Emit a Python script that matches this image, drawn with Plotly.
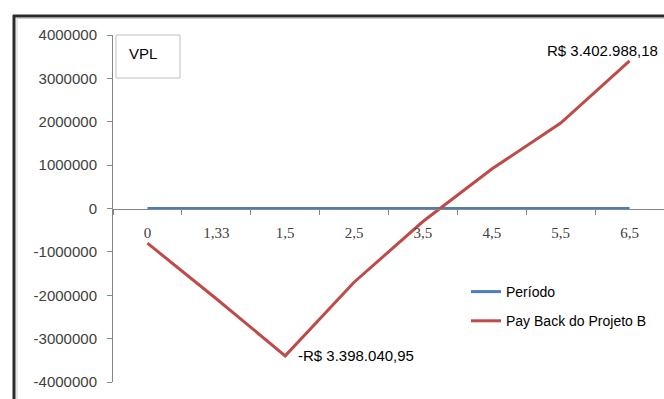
import plotly.graph_objects as go

categories = ["0", "1,33", "1,5", "2,5", "3,5", "4,5", "5,5", "6,5"]
periodo = [0, 1.33, 1.5, 2.5, 3.5, 4.5, 5.5, 6.5]
payback_b = [-800000, -2080000, -3398040.95, -1700000, -300000, 910000, 1970000, 3402988.18]
y_ticks = [-4000000, -3000000, -2000000, -1000000, 0, 1000000, 2000000, 3000000, 4000000]
min_label = "-R$ 3.398.040,95"
max_label = "R$ 3.402.988,18"

W, H = 664, 399
L, R, T, B = 113, 0, 35, 17
pw = W - L - R
ph = H - T - B

def px(x):
    return (x - L) / pw

def py(y):
    return (H - B - y) / ph

fig = go.Figure()
fig.add_trace(go.Scatter(x=categories, y=periodo, mode="lines", name="Período", legendgroup="a",
                         line=dict(color="#4A7EBB", width=3)))
fig.add_trace(go.Scatter(x=categories, y=payback_b, mode="lines", name="Pay Back do Projeto B",
                         legendgroup="b", line=dict(color="#BE4B48", width=3)))

sans = "Liberation Sans, Arial, sans-serif"
axis_font = dict(family=sans, size=15, color="#404040")

fig.update_layout(
    width=W, height=H,
    margin=dict(l=L, r=R, t=T, b=B, pad=0, autoexpand=False),
    paper_bgcolor="white", plot_bgcolor="white",
    showlegend=True,
    legend=dict(x=px(466), y=py(276), xanchor="left", yanchor="top",
                font=dict(family=sans, size=14, color="#000000"),
                bgcolor="rgba(0,0,0,0)", tracegroupgap=8),
    xaxis=dict(type="category", range=[-0.5, 7.5], anchor="free", position=0.5,
               showline=True, linecolor="#868686", linewidth=1,
               ticks="outside", ticklen=5, tickcolor="#868686", tickson="boundaries",
               showgrid=False, zeroline=False, ticklabelstandoff=10,
               tickfont=dict(family="Liberation Serif, Times New Roman, serif", size=15, color="#404040")),
    yaxis=dict(range=[-4000000, 4000000], tickvals=y_ticks, ticktext=[str(v) for v in y_ticks],
               showline=True, linecolor="#868686", linewidth=1,
               ticks="outside", ticklen=5, tickcolor="#868686", ticklabelstandoff=7,
               showgrid=False, zeroline=False, tickfont=axis_font),
)

# Data labels
fig.add_annotation(x=categories[2], y=payback_b[2], text=min_label, showarrow=False,
                   xanchor="left", yanchor="middle", xshift=11, yshift=0,
                   font=dict(family=sans, size=15, color="#000000"))
fig.add_annotation(x=categories[7], y=payback_b[7], text=max_label, showarrow=False,
                   xanchor="right", yanchor="middle", xshift=30, yshift=10,
                   font=dict(family=sans, size=15, color="#000000"))

# VPL title box
fig.add_shape(type="rect", xref="paper", yref="paper",
              x0=px(116), x1=px(180), y0=py(78), y1=py(35),
              line=dict(color="#BFBFBF", width=1), fillcolor="white", layer="below")
fig.add_annotation(xref="paper", yref="paper", x=px(127), y=py(53), text="VPL", showarrow=False,
                   xanchor="left", yanchor="middle",
                   font=dict(family=sans, size=15, color="#000000"))

# Outer chart frame (dark border on left and top)
fig.add_shape(type="line", xref="paper", yref="paper", x0=px(14), x1=px(14), y0=py(399), y1=py(15),
              line=dict(color="#2b2b2b", width=3))
fig.add_shape(type="line", xref="paper", yref="paper", x0=px(13), x1=px(664), y0=py(16), y1=py(16),
              line=dict(color="#2b2b2b", width=3))
fig.add_shape(type="line", xref="paper", yref="paper", x0=px(17), x1=px(17), y0=py(399), y1=py(18),
              line=dict(color="#D0D0D0", width=1))
fig.add_shape(type="line", xref="paper", yref="paper", x0=px(17), x1=px(664), y0=py(18.5), y1=py(18.5),
              line=dict(color="#D0D0D0", width=1))

fig.write_html("out.html", config={"displayModeBar": False},
               post_script="document.body.style.margin='0px';")
